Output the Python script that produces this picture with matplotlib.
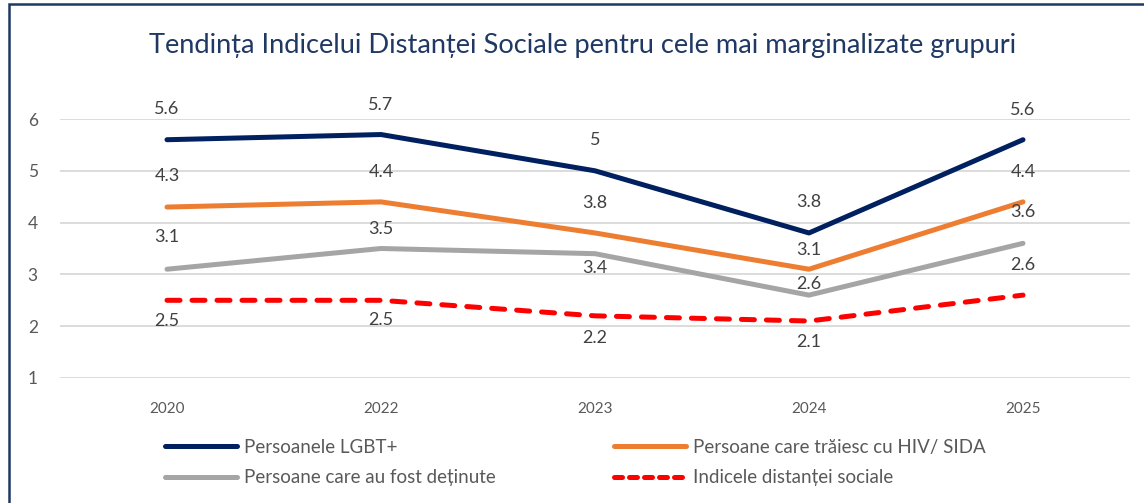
import matplotlib
matplotlib.use("Agg")
import matplotlib.pyplot as plt
from matplotlib.patches import Rectangle
from matplotlib.lines import Line2D

plt.rcParams['font.family'] = ['Lato', 'DejaVu Sans']

years = ["2020", "2022", "2023", "2024", "2025"]
lgbt = [5.6, 5.7, 5.0, 3.8, 5.6]
hiv = [4.3, 4.4, 3.8, 3.1, 4.4]
detinute = [3.1, 3.5, 3.4, 2.6, 3.6]
indice = [2.5, 2.5, 2.2, 2.1, 2.6]
value_labels = {
    "lgbt": ["5.6", "5.7", "5", "3.8", "5.6"],
    "hiv": ["4.3", "4.4", "3.8", "3.1", "4.4"],
    "detinute": ["3.1", "3.5", "3.4", "2.6", "3.6"],
    "indice": ["2.5", "2.5", "2.2", "2.1", "2.6"],
}
series_names = ["Persoanele LGBT+", "Persoane care trăiesc cu HIV/ SIDA",
                "Persoane care au fost deținute", "Indicele distanței sociale"]
title = "Tendința Indicelui Distanței Sociale pentru cele mai marginalizate grupuri"
yticks = [1, 2, 3, 4, 5, 6]

# label offsets in pixels (negative = above)
offsets = {
    "lgbt": [-31, -30, -31, -31, -30],
    "hiv": [-31, -30, -30, -19, -30],
    "detinute": [-32, -20, 14, -11, -31],
    "indice": [21, 20, 22, 21, -30],
}

W, H = 1144, 503
fig = plt.figure(figsize=(W / 100, H / 100), dpi=100)
fig.patch.set_facecolor("white")

ax = fig.add_axes([60 / W, 1 - 378 / H, (1130 - 60) / W, (378 - 119) / H])
x = list(range(len(years)))

navy = "#002060"
orange = "#ED7D31"
gray = "#A5A5A5"
red = "#FF0000"

ax.plot(x, lgbt, color=navy, lw=3.6, solid_capstyle="round", solid_joinstyle="round", zorder=4)
ax.plot(x, hiv, color=orange, lw=3.6, solid_capstyle="round", solid_joinstyle="round", zorder=3)
ax.plot(x, detinute, color=gray, lw=3.6, solid_capstyle="round", solid_joinstyle="round", zorder=3)
ax.plot(x, indice, color=red, lw=3.6, dashes=(2.6, 2.4), dash_capstyle="round", zorder=3)

for key, vals in [("lgbt", lgbt), ("hiv", hiv), ("detinute", detinute), ("indice", indice)]:
    for i, v in enumerate(vals):
        ax.annotate(value_labels[key][i], (x[i], v), xytext=(0, -offsets[key][i] * 0.72),
                    textcoords="offset points", ha="center", va="center",
                    fontsize=13, color="#404040", zorder=5)

ax.set_xlim(-0.5, len(years) - 0.5)
ax.set_ylim(1, 6)
ax.set_yticks(yticks)
ax.set_yticklabels([str(t) for t in yticks])
ax.set_xticks(x)
ax.set_xticklabels(years)
ax.grid(axis="y", color="#D9D9D9", lw=1.3)
ax.set_axisbelow(True)
for s in ax.spines.values():
    s.set_visible(False)
ax.tick_params(axis="y", length=0, pad=16, labelsize=12.5, labelcolor="#595959")
ax.tick_params(axis="x", length=0, pad=17, labelsize=11, labelcolor="#595959")

fig.text(583 / W, 1 - 45 / H, title, ha="center", va="center", fontsize=19.6, color="#1F3864")

handles = [
    Line2D([], [], color=navy, lw=3.6, solid_capstyle="round"),
    Line2D([], [], color=gray, lw=3.6, solid_capstyle="round"),
    Line2D([], [], color=orange, lw=3.6, solid_capstyle="round"),
    Line2D([], [], color=red, lw=3.6, dashes=(1.6, 1.4), dash_capstyle="round"),
]
labels = [series_names[0], series_names[2], series_names[1], series_names[3]]
leg = fig.legend(handles, labels, ncol=2, loc="upper left",
                 bbox_to_anchor=(165 / W, 1 - 439 / H), frameon=False,
                 fontsize=13.5, handlelength=3.85, handletextpad=0.35,
                 columnspacing=6.33, labelspacing=0.72, borderpad=0, borderaxespad=0)
for t in leg.get_texts():
    t.set_color("#595959")

fig.add_artist(Rectangle((9 / W, -0.1), 1.2, (1 - 4 / H) + 0.1, transform=fig.transFigure,
                         fill=False, edgecolor="#1F3864", lw=1.8, clip_on=False))

fig.savefig("out.png", dpi=100, facecolor="white")
